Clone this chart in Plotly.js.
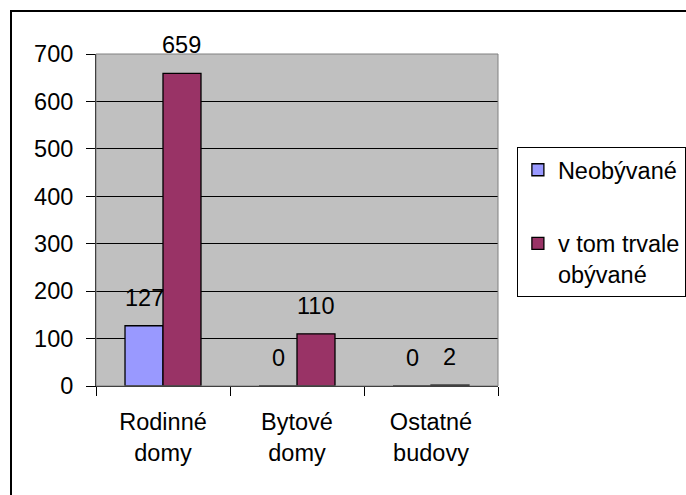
<!DOCTYPE html>
<html>
<head>
<meta charset="utf-8">
<script src="https://cdn.plot.ly/plotly-3.0.1.min.js"></script>
<style>
  html, body { margin: 0; padding: 0; width: 686px; height: 495px; overflow: hidden; background: #fff; }
  #chart { position: absolute; left: 0; top: 0; width: 780px; height: 495px; }
  #frame { position: absolute; left: 10px; top: 10px; width: 720px; height: 540px;
           border-left: 2px solid #000; border-top: 2px solid #000; pointer-events: none; }
</style>
</head>
<body>
<div id="chart"></div>
<div id="frame"></div>
<script>
// ---- data ----
const categories = ['Rodinné<br>domy', 'Bytové<br>domy', 'Ostatné<br>budovy'];
const seriesNames = ['Neobývané', 'v tom trvale<br>obývané'];
const neobyvane = [127, 0, 0];
const trvaleObyvane = [659, 110, 2];
const yTicks = [0, 100, 200, 300, 400, 500, 600, 700];

// ---- style ----
const FONT = 'Liberation Sans, Arial, sans-serif';
const FS = 23.5;
const colors = ['#9999FF', '#993366'];
const bargap = 0.433;

const seriesValues = [neobyvane, trvaleObyvane];
const traces = seriesValues.map((vals, k) => ({
  type: 'bar',
  name: seriesNames[k],
  x: categories,
  y: vals,
  legendgroup: 'g' + k,
  marker: { color: colors[k], line: { color: '#000', width: 1.3 } },
  hoverinfo: 'skip'
}));

// value labels placed over each bar through the axis scales
const annotations = [];
const half = (1 - bargap) / 4;
seriesValues.forEach((vals, k) => {
  vals.forEach((v, i) => {
    annotations.push({
      xref: 'x', yref: 'y',
      x: i + (k === 0 ? -half : half),
      y: v,
      text: String(v),
      showarrow: false,
      yanchor: 'bottom',
      yshift: 13,
      font: { family: FONT, size: FS, color: '#000' }
    });
  });
});

const layout = {
  width: 780, height: 495,
  margin: { l: 96, r: 282, t: 54, b: 109 },
  paper_bgcolor: '#fff',
  plot_bgcolor: '#C0C0C0',
  barmode: 'group',
  bargap: bargap,
  bargroupgap: 0,
  showlegend: true,
  font: { family: FONT, size: FS, color: '#000' },
  xaxis: {
    type: 'category',
    tickson: 'boundaries',
    ticks: 'outside', ticklen: 9, tickwidth: 1, tickcolor: '#000',
    showline: true, linecolor: '#000', linewidth: 1,
    showgrid: false, zeroline: false,
    ticklabelstandoff: 15,
    tickfont: { family: FONT, size: FS, color: '#000' },
    fixedrange: true
  },
  yaxis: {
    range: [0, 700],
    tickvals: yTicks,
    ticktext: yTicks.map(String),
    ticks: 'outside', ticklen: 9, tickwidth: 1, tickcolor: '#000',
    showline: true, linecolor: '#000', linewidth: 1,
    showgrid: true, gridcolor: '#000', gridwidth: 1,
    zeroline: false,
    ticklabelstandoff: 8,
    tickfont: { family: FONT, size: FS, color: '#000' },
    fixedrange: true
  },
  legend: {
    x: 1.047, xanchor: 'left',
    y: 0.72, yanchor: 'top',
    bgcolor: '#fff',
    bordercolor: '#000', borderwidth: 1,
    traceorder: 'grouped',
    tracegroupgap: 40,
    valign: 'top',
    font: { family: FONT, size: FS, color: '#000' }
  },
  shapes: [{
    type: 'rect', xref: 'paper', yref: 'paper', x0: 0, x1: 1, y0: 0, y1: 1,
    line: { color: '#808080', width: 1 }, layer: 'above'
  }],
  annotations: annotations
};

Plotly.newPlot('chart', traces, layout, { staticPlot: true, displayModeBar: false });
</script>
</body>
</html>
